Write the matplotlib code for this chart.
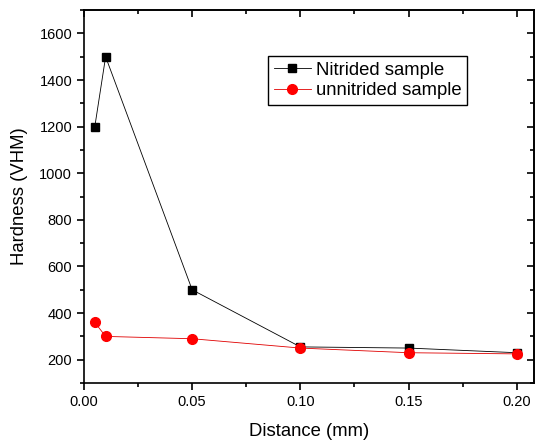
import matplotlib
matplotlib.use("Agg")
import matplotlib.pyplot as plt
from matplotlib.ticker import MultipleLocator

plt.rcParams["font.family"] = ["Liberation Sans", "DejaVu Sans"]

distance = [0.005, 0.01, 0.05, 0.10, 0.15, 0.20]
nitrided = [1200, 1500, 500, 255, 250, 230]
unnitrided = [360, 300, 290, 250, 230, 225]

fig = plt.figure(figsize=(5.37, 4.40), dpi=100)
ax = fig.add_axes([0.1564, 0.1295, 0.838, 0.8475])

ax.plot(distance, nitrided, color="black", lw=0.6, marker="s", ms=6,
        label="Nitrided sample")
ax.plot(distance, unnitrided, color="#e00000", lw=0.6, marker="o", ms=7,
        mfc="red", mec="red", label="unnitrided sample")

ax.set_xlim(0, 0.208)
ax.set_ylim(100, 1700)
ax.xaxis.set_major_locator(MultipleLocator(0.05))
ax.xaxis.set_minor_locator(MultipleLocator(0.025))
ax.yaxis.set_major_locator(MultipleLocator(200))
ax.yaxis.set_minor_locator(MultipleLocator(100))
ax.xaxis.set_major_formatter(plt.FormatStrFormatter("%.2f"))
ax.tick_params(which="both", direction="out", top=False, right=False,
               labelsize=10.5, width=1.2)
ax.tick_params(which="major", length=5)
ax.tick_params(which="minor", length=3)

# mirrored ticks on top / right, pointing inward
secx = ax.secondary_xaxis("top")
secx.xaxis.set_major_locator(MultipleLocator(0.05))
secx.xaxis.set_minor_locator(MultipleLocator(0.025))
secx.tick_params(which="both", direction="in", labeltop=False, width=1.2)
secx.tick_params(which="major", length=5)
secx.tick_params(which="minor", length=3)
secy = ax.secondary_yaxis("right")
secy.yaxis.set_major_locator(MultipleLocator(200))
secy.yaxis.set_minor_locator(MultipleLocator(100))
secy.tick_params(which="both", direction="in", labelright=False, width=1.2)
secy.tick_params(which="major", length=5)
secy.tick_params(which="minor", length=3)

for sp in ax.spines.values():
    sp.set_linewidth(1.2)
secx.spines["top"].set_linewidth(1.2)
secy.spines["right"].set_linewidth(1.2)

ax.set_xlabel("Distance (mm)", fontsize=13.3, labelpad=10)
ax.set_ylabel("Hardness (VHM)", fontsize=13.3, labelpad=8)

ax.legend(loc="upper left", bbox_to_anchor=(0.409, 0.877), fontsize=13.3,
          frameon=True, fancybox=False, edgecolor="black", framealpha=1,
          handlelength=2.0, handletextpad=0.3, borderpad=0.3,
          labelspacing=0.2, borderaxespad=0)

fig.savefig("out.png", dpi=100)
